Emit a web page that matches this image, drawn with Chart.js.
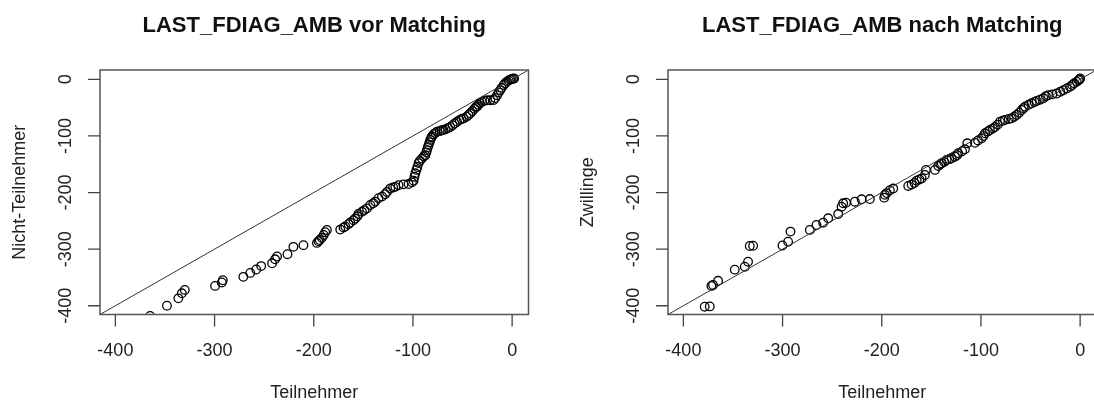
<!DOCTYPE html>
<html>
<head>
<meta charset="utf-8">
<script src="https://cdn.jsdelivr.net/npm/chart.js@4/dist/chart.umd.min.js"></script>
<style>
    html, body { margin: 0; padding: 0; background: #fff; overflow: hidden; }
    #wrap { position: relative; width: 1094px; height: 405px; overflow: hidden; }
    canvas { position: absolute; top: 0; }
</style>
</head>
<body>
<div id="wrap">
    <canvas id="vor" width="568" height="405" style="left:0"></canvas>
    <canvas id="nach" width="568" height="405" style="left:568px"></canvas>
</div>
<script>
const tickValues = [-400, -300, -200, -100, 0];
const axisMin = -415.5;
const axisMax = 16.5;

// vor Matching: Teilnehmer vs. Nicht-Teilnehmer (sortierte Quantile)
const teilnehmerVor = [
    -365, -348, -336.5, -333, -330, -299.5, -292.7, -291.7, -271, -264,
    -258, -253, -242, -239, -237, -226.5, -220.5, -210.4, -196.8, -195.2,
    -194, -191.8, -190, -188.5, -186.8, -173.3, -170, -168.3, -165, -163.2,
    -160, -158.2, -156, -154.9, -151.4, -149, -146.4, -143, -140, -138,
    -134.7, -131.2, -128, -126.2, -122.9, -120, -117.8, -114.5, -109.5, -104.4,
    -101, -99.4, -98.5, -97.6, -96.5, -95.5, -94.3, -93, -90.9, -89,
    -87.5, -86.5, -85.9, -85, -84.2, -83.3, -82.5, -81.5, -80.8, -79.2,
    -77.5, -75.8, -73, -71, -69.2, -67, -64.5, -62.4, -60, -58,
    -55.6, -53, -51, -48.9, -46, -44, -42.1, -40, -38, -36.5,
    -35.4, -34, -32.5, -30.4, -28, -25.3, -22, -18.7, -17, -15.2,
    -13.5, -11.9, -10.5, -8.5, -7, -5.1, -3.5, -2, -0.5, 1, 2
];
const nichtTeilnehmer = [
    -418, -400, -387, -378, -372, -365, -359, -355, -349, -342,
    -336, -330, -325, -318, -313, -309, -296, -293, -289, -286,
    -284, -280, -275, -270, -266, -265.5, -262, -260, -256, -253,
    -249, -246, -242, -238, -234, -231, -228, -222, -219, -216,
    -210, -207, -203, -199, -193, -191, -190, -187, -185.5, -185,
    -182, -179, -172, -166, -160, -155, -148, -144, -140, -136,
    -134, -129, -125, -120, -116, -111, -107, -103, -101, -97,
    -95, -92.5, -91.5, -90, -89.5, -88, -86, -84, -81, -78,
    -75, -72, -70, -69, -66, -63, -60, -56, -52, -49,
    -48, -45, -42, -40, -38, -37, -37, -36.5, -33, -28,
    -23, -19, -15, -10, -7, -4, -2, -0.5, 0.5, 1, 1.5
];

// nach Matching: Teilnehmer vs. Zwillinge
const teilnehmerNach = [
    -378.5, -373.4, -371.7, -370.1, -365, -348.2, -338.1, -334.8, -333.1, -329.7,
    -300.1, -294.4, -292, -272.5, -265.8, -259.1, -254, -243.9, -240.5, -238.9,
    -236, -227.1, -220.3, -212, -197.5, -196.8, -195, -191.8, -188.4, -173.3,
    -169.9, -167, -164.8, -162, -159.8, -156.5, -155.5, -146.4, -143, -141,
    -139.6, -137, -134.6, -132, -129.5, -126.2, -124, -122.9, -119, -116.1,
    -113.8, -106, -103, -99.3, -97.5, -95.9, -93, -90.9, -88, -85.9,
    -83, -80.8, -78, -75.8, -72, -69, -66.5, -64, -61.5, -58.9,
    -57, -55.6, -52, -48.8, -46, -43.8, -40.5, -37.1, -34.5, -32.1,
    -28, -23.6, -20, -16.9, -13.5, -10.2, -8, -6, -3.4, -1.5, -0.5, 0
];
const zwillinge = [
    -401.7, -401.2, -365, -363.4, -356, -336.3, -331, -322.2, -294.5, -294,
    -293.5, -287, -269, -266, -257.4, -253.3, -245.5, -238, -225, -219,
    -218, -216.2, -212, -211.5, -209, -204, -201, -196, -193, -188.4,
    -186, -183, -179, -177, -175, -169, -160.2, -160, -153, -150,
    -148.3, -146, -142.5, -141, -139.5, -136.7, -134, -130.7, -127, -123.6,
    -113, -112, -108, -104.2, -100, -95.3, -92, -89.5, -87, -84,
    -80, -74.8, -73, -71.8, -70, -68.8, -66, -63, -59, -54.2,
    -51, -48.3, -45, -42.3, -40, -38.1, -36, -33.5, -30, -28,
    -26.5, -25, -22, -19.2, -16, -13, -10, -7, -4.1, -1.5, 0, 1.5
];

const fontFamily = '"Liberation Sans", Arial, Helvetica, sans-serif';

// Rahmen, Achsen und Beschriftungen im Stil von R-Basisgrafik
const rFrame = {
    id: 'rFrame',
    afterDraw(chart, args, opts) {
        const { ctx, chartArea: area, scales } = chart;
        const xs = scales.x;
        const ys = scales.y;
        const tickLen = 12;
        ctx.save();

        ctx.strokeStyle = '#555';
        ctx.lineWidth = 1.5;
        ctx.strokeRect(area.left, area.top, area.right - area.left, area.bottom - area.top);

        ctx.strokeStyle = '#444';
        ctx.lineWidth = 1.3;
        ctx.beginPath();
        tickValues.forEach(v => {
            const px = xs.getPixelForValue(v);
            ctx.moveTo(px, area.bottom);
            ctx.lineTo(px, area.bottom + tickLen);
            const py = ys.getPixelForValue(v);
            ctx.moveTo(area.left, py);
            ctx.lineTo(area.left - tickLen, py);
        });
        ctx.stroke();

        ctx.fillStyle = '#222';
        ctx.font = '18px ' + fontFamily;
        ctx.textAlign = 'center';
        ctx.textBaseline = 'middle';
        tickValues.forEach(v => {
            ctx.fillText(String(v), xs.getPixelForValue(v), area.bottom + 37);
            ctx.save();
            ctx.translate(area.left - 34, ys.getPixelForValue(v));
            ctx.rotate(-Math.PI / 2);
            ctx.fillText(String(v), 0, 0);
            ctx.restore();
        });

        const cx = (area.left + area.right) / 2;
        const cy = (area.top + area.bottom) / 2;
        ctx.fillText(opts.xLabel, cx, area.bottom + 79);
        ctx.save();
        ctx.translate(area.left - 80, cy);
        ctx.rotate(-Math.PI / 2);
        ctx.fillText(opts.yLabel, 0, 0);
        ctx.restore();

        ctx.fillStyle = '#111';
        ctx.font = 'bold 22px ' + fontFamily;
        ctx.fillText(opts.title, cx, 26);
        ctx.restore();
    }
};

function makeQQ(canvasId, xValues, yValues, title, xLabel, yLabel) {
    const points = xValues.map((v, i) => ({ x: v, y: yValues[i] }));
    new Chart(document.getElementById(canvasId), {
        type: 'scatter',
        data: {
            datasets: [
                {
                    // Winkelhalbierende y = x
                    data: [{ x: axisMin, y: axisMin }, { x: axisMax, y: axisMax }],
                    showLine: true,
                    borderColor: '#333',
                    borderWidth: 1,
                    pointRadius: 0,
                    clip: 0,
                },
                {
                    data: points,
                    pointStyle: 'circle',
                    pointRadius: 4.3,
                    pointBorderWidth: 1.3,
                    borderColor: '#000',
                    backgroundColor: 'rgba(0,0,0,0)',
                    showLine: false,
                    clip: 0,
                },
            ],
        },
        options: {
            responsive: false,
            devicePixelRatio: 1,
            animation: false,
            events: [],
            layout: {
                padding: { left: 100, right: 39.5, top: 70, bottom: 90.5 }
            },
            scales: {
                x: { type: 'linear', min: axisMin, max: axisMax, display: false },
                y: { type: 'linear', min: axisMin, max: axisMax, display: false },
            },
            plugins: {
                legend: { display: false },
                tooltip: { enabled: false },
                rFrame: { title: title, xLabel: xLabel, yLabel: yLabel },
            },
        },
        plugins: [rFrame],
    });
}

makeQQ('vor', teilnehmerVor, nichtTeilnehmer,
    'LAST_FDIAG_AMB vor Matching', 'Teilnehmer', 'Nicht-Teilnehmer');
makeQQ('nach', teilnehmerNach, zwillinge,
    'LAST_FDIAG_AMB nach Matching', 'Teilnehmer', 'Zwillinge');
</script>
</body>
</html>
